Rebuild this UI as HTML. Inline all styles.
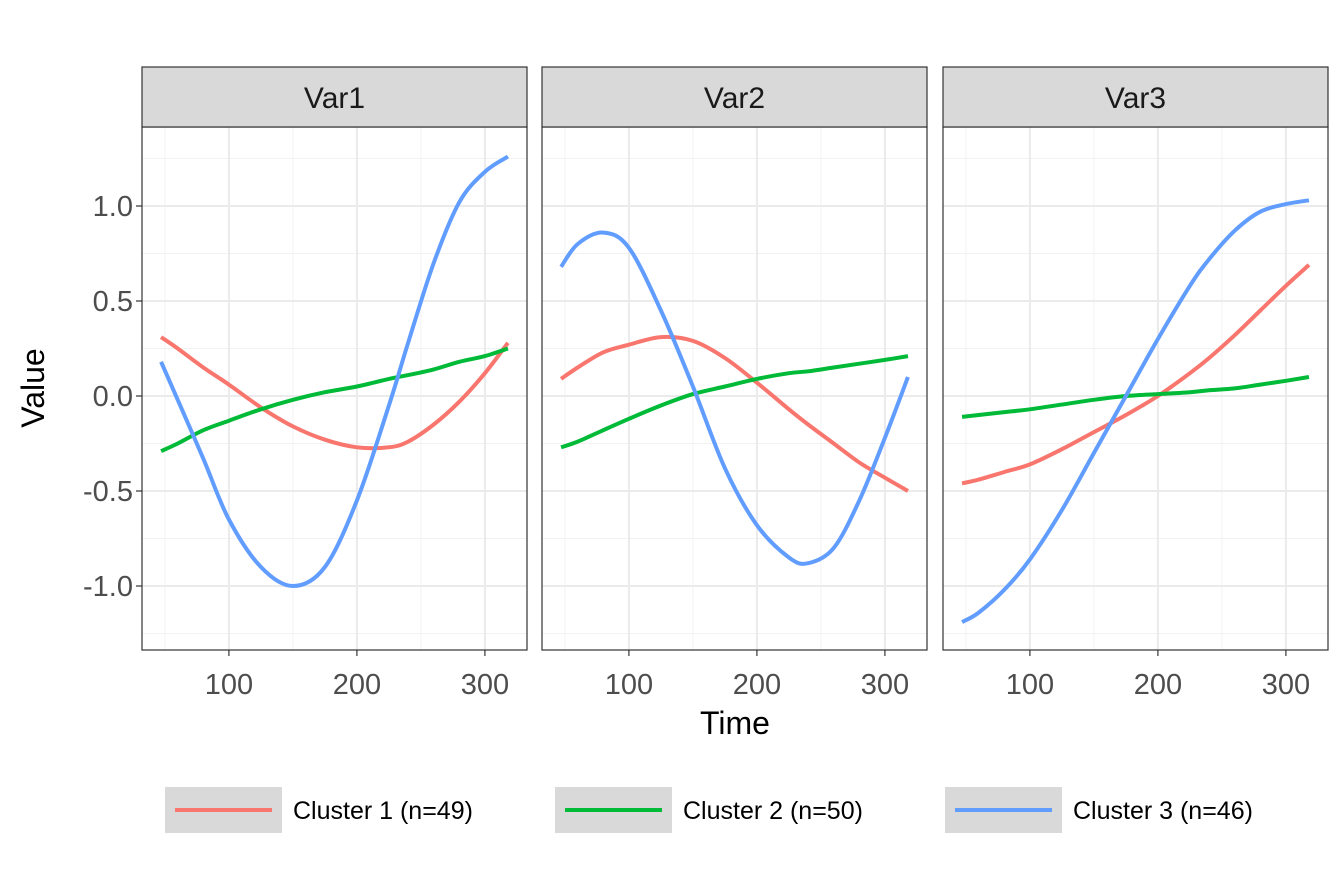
<!DOCTYPE html>
<html><head><meta charset="utf-8"><style>
body{margin:0;background:#fff}
svg text{font-family:"Liberation Sans",Arial,sans-serif}
</style></head><body>
<svg id="c" width="1344" height="864" xmlns="http://www.w3.org/2000/svg"></svg>
<script>
const times=[47,60,80,100,125,150,175,200,225,240,260,280,300,318];
const panels=["Var1","Var2","Var3"];
const seriesNames=["Cluster 1 (n=49)","Cluster 2 (n=50)","Cluster 3 (n=46)"];
const v1c1=[.31,.25,.15,.06,-.06,-.16,-.23,-.27,-.27,-.24,-.15,-.03,.12,.28];
const v1c2=[-.29,-.25,-.18,-.13,-.07,-.02,.02,.05,.09,.11,.14,.18,.21,.25];
const v1c3=[.18,-.02,-.33,-.65,-.9,-1.0,-.9,-.55,-.05,.28,.7,1.02,1.18,1.26];
const v2c1=[.09,.15,.23,.27,.31,.29,.2,.07,-.07,-.15,-.25,-.35,-.43,-.5];
const v2c2=[-.27,-.24,-.18,-.12,-.05,.01,.05,.09,.12,.13,.15,.17,.19,.21];
const v2c3=[.68,.8,.86,.78,.45,.05,-.38,-.68,-.85,-.88,-.8,-.55,-.22,.1];
const v3c1=[-.46,-.44,-.4,-.36,-.28,-.19,-.1,0,.12,.2,.32,.45,.58,.69];
const v3c2=[-.11,-.1,-.085,-.07,-.045,-.02,0,.01,.02,.03,.04,.06,.08,.1];
const v3c3=[-1.19,-1.14,-1.02,-.86,-.6,-.3,0,.3,.58,.72,.87,.97,1.01,1.03];
const xTicks=[100,200,300];
const yTicks=[-1.0,-0.5,0.0,0.5,1.0];
const yTickLabels=["-1.0","-0.5","0.0","0.5","1.0"];
const data=[[v1c1,v1c2,v1c3],[v2c1,v2c2,v2c3],[v3c1,v3c2,v3c3]];
const colors=["#F8766D","#00BA38","#619CFF"];
const NS="http://www.w3.org/2000/svg",svg=document.getElementById('c');
function mk(t,a,p){const e=document.createElementNS(NS,t);for(const k in a)e.setAttribute(k,a[k]);(p||svg).appendChild(e);return e;}
const panelX=[142,542,943],PW=385,PT=127,PB=650;
const xMin=32.1,xMax=32.1+PW/1.28;
const y=v=>396-v*190;
panels.forEach((name,pi)=>{
  const x0=panelX[pi];const x=t=>x0+(t-xMin)*1.28;
  const g=mk('g',{});
  
  
  mk('rect',{x:x0,y:PT,width:PW,height:PB-PT,fill:'#fff'},g);
  [50,150,250].forEach(t=>mk('line',{x1:x(t),x2:x(t),y1:PT,y2:PB,stroke:'#f2f2f2','stroke-width':1},g));
  [-1.25,-0.75,-0.25,0.25,0.75,1.25].forEach(v=>mk('line',{x1:x0,x2:x0+PW,y1:y(v),y2:y(v),stroke:'#f2f2f2','stroke-width':1},g));
  xTicks.forEach(t=>mk('line',{x1:x(t),x2:x(t),y1:PT,y2:PB,stroke:'#ebebeb','stroke-width':2},g));
  yTicks.forEach(v=>mk('line',{x1:x0,x2:x0+PW,y1:y(v),y2:y(v),stroke:'#ebebeb','stroke-width':2},g));
  data[pi].forEach((vals,si)=>{
    const pts=times.map((t,i)=>[x(t),y(vals[i])]);
    let d='M'+pts[0][0]+','+pts[0][1];
    for(let i=0;i<pts.length-1;i++){const p0=pts[i-1]||pts[i],p1=pts[i],p2=pts[i+1],p3=pts[i+2]||p2;
      d+=' C'+(p1[0]+(p2[0]-p0[0])/6)+','+(p1[1]+(p2[1]-p0[1])/6)+' '+(p2[0]-(p3[0]-p1[0])/6)+','+(p2[1]-(p3[1]-p1[1])/6)+' '+p2[0]+','+p2[1];}
    const l=mk('path',{d:d,fill:'none',stroke:colors[si],'stroke-width':4},g);
    
    
  });
  mk('rect',{x:x0,y:PT,width:PW,height:PB-PT,fill:'none',stroke:'#333','stroke-width':1.2},g);
  const s=mk('rect',{x:x0,y:67,width:PW,height:60,fill:'#d9d9d9',stroke:'#333','stroke-width':1.2},g);
  
  const st=mk('text',{x:x0+PW/2,y:108,'text-anchor':'middle','font-size':30,fill:'#1a1a1a'},g);st.textContent=name;
  
  xTicks.forEach(t=>{mk('line',{x1:x(t),x2:x(t),y1:PB,y2:PB+6,stroke:'#333','stroke-width':1.2},g);
    const tx=mk('text',{x:x(t),y:694,'text-anchor':'middle','font-size':29,fill:'#4d4d4d'},g);tx.textContent=t;
    });
});
yTicks.forEach((v,i)=>{mk('line',{x1:136,x2:142,y1:y(v),y2:y(v),stroke:'#333','stroke-width':1.2});
  const t=mk('text',{x:133,y:y(v)+10,'text-anchor':'end','font-size':29,fill:'#4d4d4d'});t.textContent=yTickLabels[i];
  });
let t=mk('text',{x:735,y:734,'text-anchor':'middle','font-size':32,fill:'#000'});t.textContent='Time';

t=mk('text',{x:0,y:0,'text-anchor':'middle','font-size':32,fill:'#000',transform:'translate(44,388) rotate(-90)'});t.textContent='Value';

[165,555,945].forEach((lx,i)=>{
  const g=mk('g',{});
  mk('rect',{x:lx,y:787,width:117,height:46,fill:'#d9d9d9'},g);
  mk('line',{x1:lx+10,x2:lx+107,y1:810,y2:810,stroke:colors[i],'stroke-width':4},g);
  const tt=mk('text',{x:lx+128,y:819,'font-size':25,fill:'#000'},g);tt.textContent=seriesNames[i];
});
</script>
</body></html>
